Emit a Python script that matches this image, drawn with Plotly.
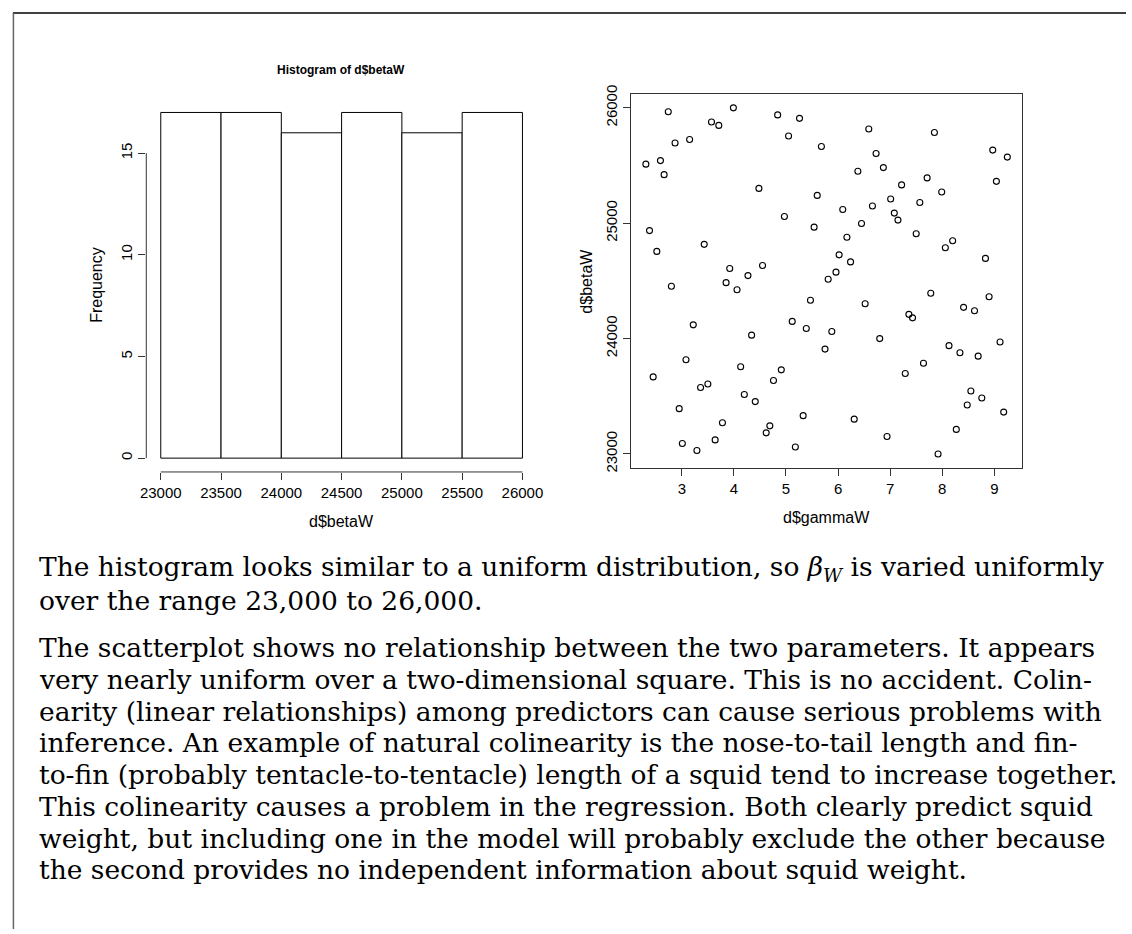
import pandas as pd
import plotly.graph_objects as go

# Design points: gammaW (x) and betaW (y)
gamma_w = [
    2.31, 2.38, 2.45, 2.52, 2.59, 2.66, 2.74, 2.80, 2.87, 2.95,
    3.01, 3.08, 3.15, 3.22, 3.29, 3.36, 3.43, 3.50, 3.57, 3.64,
    3.71, 3.78, 3.85, 3.92, 3.99, 4.06, 4.13, 4.20, 4.27, 4.34,
    4.41, 4.48, 4.55, 4.62, 4.69, 4.76, 4.84, 4.91, 4.97, 5.05,
    5.12, 5.18, 5.26, 5.33, 5.39, 5.47, 5.54, 5.60, 5.68, 5.75,
    5.81, 5.88, 5.96, 6.02, 6.09, 6.17, 6.24, 6.31, 6.38, 6.45,
    6.52, 6.59, 6.66, 6.73, 6.80, 6.87, 6.94, 7.01, 7.08, 7.15,
    7.22, 7.29, 7.36, 7.43, 7.50, 7.57, 7.64, 7.71, 7.78, 7.85,
    7.92, 7.99, 8.06, 8.13, 8.20, 8.27, 8.34, 8.41, 8.48, 8.55,
    8.62, 8.69, 8.76, 8.83, 8.90, 8.97, 9.04, 9.11, 9.18, 9.25,
]
beta_w = [
    25512, 24936, 23668, 24756, 25543, 25421, 25966, 24454, 25695, 23393,
    23091, 23817, 25726, 24119, 23030, 23576, 24817, 23607, 25878, 23122,
    25848, 23271, 24485, 24607, 26000, 24424, 23756, 23515, 24546, 24030,
    23454, 25302, 24634, 23183, 23244, 23637, 25939, 23729, 25058, 25756,
    24149, 23061, 25909, 23332, 24088, 24332, 24966, 25241, 25665, 23909,
    24515, 24061, 24576, 24726, 25119, 24878, 24665, 23302, 25451, 24997,
    24302, 25817, 25149, 25604, 24000, 25482, 23152, 25210, 25088, 25027,
    25332, 23698, 24210, 24180, 24909, 25180, 23787, 25393, 24393, 25787,
    23000, 25271, 24787, 23939, 24848, 23213, 23878, 24271, 23424, 23546,
    24241, 23848, 23485, 24695, 24363, 25634, 25363, 23970, 23363, 25573,
]

bin_edges = [23000, 23500, 24000, 24500, 25000, 25500, 26000]
hist_ticks = [23000, 23500, 24000, 24500, 25000, 25500, 26000]
freq_ticks = [0, 5, 10, 15]
gamma_ticks = [3, 4, 5, 6, 7, 8, 9]
beta_ticks = [23000, 24000, 25000, 26000]

paragraph_lines = [
    "The histogram looks similar to a uniform distribution, so <i>β</i><sub><i>W</i></sub> is varied uniformly",
    "over the range 23,000 to 26,000.",
    "The scatterplot shows no relationship between the two parameters. It appears",
    "very nearly uniform over a two-dimensional square. This is no accident. Colin-",
    "earity (linear relationships) among predictors can cause serious problems with",
    "inference. An example of natural colinearity is the nose-to-tail length and fin-",
    "to-fin (probably tentacle-to-tentacle) length of a squid tend to increase together.",
    "This colinearity causes a problem in the regression. Both clearly predict squid",
    "weight, but including one in the model will probably exclude the other because",
    "the second provides no independent information about squid weight.",
]
line_y = [568, 600, 648, 681, 713, 745, 777, 810, 842, 874]

W, H = 1132, 934
TEXT_LEFT = 31


def px_x(p):
    return p / W


def px_y(p):
    return 1 - p / H


# Right-closed bins, lowest value included
counts = (
    pd.cut(pd.Series(beta_w), bins=bin_edges, right=True, include_lowest=True)
    .value_counts(sort=False)
    .tolist()
)
mids = [(a + b) / 2 for a, b in zip(bin_edges[:-1], bin_edges[1:])]

SANS = "Liberation Sans, Arial, sans-serif"
SERIF = "DejaVu Serif, serif"
AX = "#333333"

fig = go.Figure()
fig.add_trace(go.Bar(
    x=mids, y=counts, width=500,
    marker=dict(color="white", line=dict(color="black", width=1)),
    xaxis="x", yaxis="y", showlegend=False, hoverinfo="skip",
))
fig.add_trace(go.Scatter(
    x=gamma_w, y=beta_w, mode="markers",
    marker=dict(symbol="circle-open", size=6, color="black", line=dict(width=1.1, color="black")),
    xaxis="x2", yaxis="y2", showlegend=False,
))

tick_font = dict(family=SANS, size=15, color="black")
common = dict(showgrid=False, zeroline=False, ticks="outside", ticklen=7,
              tickwidth=1, tickcolor=AX, tickfont=tick_font)

fig.update_layout(
    width=W, height=H, autosize=False,
    margin=dict(l=0, r=0, t=0, b=0),
    paper_bgcolor="white", plot_bgcolor="white",
    xaxis=dict(domain=[px_x(141.8), px_x(536.6)], range=[22880, 26120],
               tickvals=hist_ticks, ticktext=[str(v) for v in hist_ticks],
               showline=False, anchor="y", **common),
    yaxis=dict(domain=[px_y(470), px_y(91)], range=[-0.68, 17.68],
               tickvals=freq_ticks, ticktext=[str(v) for v in freq_ticks],
               tickangle=-90, showline=False, anchor="x", **common),
    xaxis2=dict(domain=[px_x(632.1), px_x(1026.8)], range=[2.032, 9.53],
                tickvals=gamma_ticks, ticktext=[str(v) for v in gamma_ticks],
                showline=True, mirror=True, linecolor=AX,
                linewidth=1, anchor="y2", **common),
    yaxis2=dict(domain=[px_y(465.8), px_y(86.3)], range=[22880, 26120],
                tickvals=beta_ticks, ticktext=[str(v) for v in beta_ticks],
                tickangle=-90, showline=True, mirror=True,
                linecolor=AX, linewidth=1, anchor="x2", **common),
)

shapes = [
    # histogram axis lines, spanning first to last tick
    dict(type="line", xref="x", yref="paper", x0=23000, x1=26000,
         y0=px_y(470), y1=px_y(470), line=dict(color=AX, width=1)),
    dict(type="line", xref="paper", yref="y", x0=px_x(141.8), x1=px_x(141.8),
         y0=0, y1=15, line=dict(color=AX, width=1)),
    # page rules
    dict(type="line", xref="paper", yref="paper", x0=px_x(7), x1=1,
         y0=px_y(4), y1=px_y(4), line=dict(color="black", width=1.5)),
    dict(type="line", xref="paper", yref="paper", x0=px_x(7.5), x1=px_x(7.5),
         y0=px_y(4), y1=0, line=dict(color="#666666", width=1.5)),
]
fig.update_layout(shapes=shapes)

ann = []
ann.append(dict(text="<b>Histogram of d$betaW</b>", x=px_x(339), y=px_y(62),
                font=dict(family=SANS, size=12, color="black")))
ann.append(dict(text="Frequency", x=px_x(92), y=px_y(280), textangle=-90,
                font=dict(family=SANS, size=16, color="black")))
ann.append(dict(text="d$betaW", x=px_x(339), y=px_y(520),
                font=dict(family=SANS, size=16, color="black")))
ann.append(dict(text="d$gammaW", x=px_x(829), y=px_y(516),
                font=dict(family=SANS, size=16, color="black")))
ann.append(dict(text="d$betaW", x=px_x(587), y=px_y(276), textangle=-90,
                font=dict(family=SANS, size=16, color="black")))
for t, yy in zip(paragraph_lines, line_y):
    ann.append(dict(text=t, x=px_x(TEXT_LEFT), y=px_y(yy), xanchor="left",
                    font=dict(family=SERIF, size=26.5, color="black")))

for a in ann:
    a.setdefault("xanchor", "center")
    a.update(xref="paper", yref="paper", yanchor="middle", showarrow=False)
fig.update_layout(annotations=ann)

fig.write_html("out.html")
